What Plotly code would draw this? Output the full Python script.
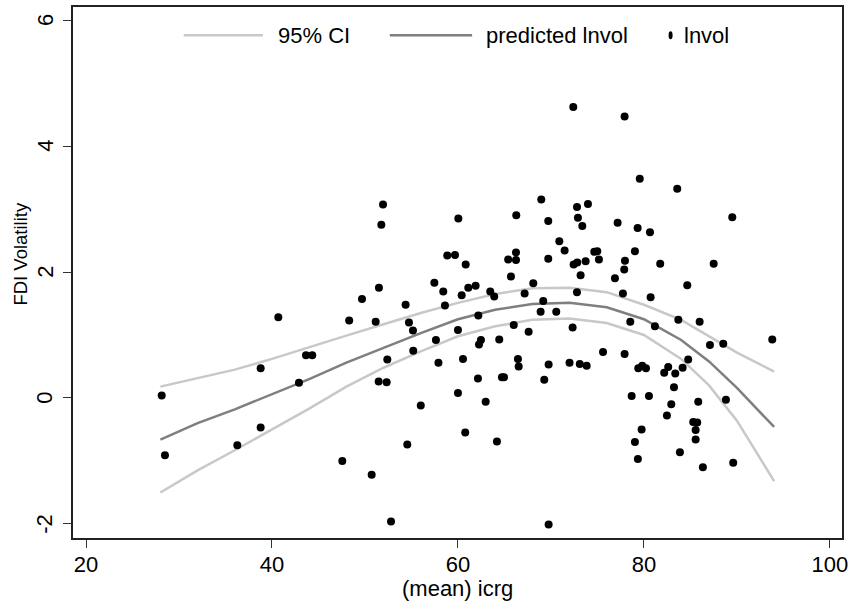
import plotly.graph_objects as go

# ---- data ----
icrg = [28.14, 28.49, 38.78, 38.78, 36.27,
        51.94, 51.76, 58.85, 57.46, 51.5, 49.68, 58.42, 54.37, 58.6, 40.68,
        48.3, 51.15, 54.73, 55.16, 57.63, 55.19, 43.66, 44.33, 52.4, 57.9, 42.9, 51.47, 52.33, 56.0, 54.55, 47.56, 50.72, 52.8,
        72.4, 77.92, 79.55, 68.96, 72.8, 73.98, 72.9, 73.37, 60.04, 66.27, 69.71, 77.17, 79.32, 70.9, 71.47, 74.66, 74.98, 79.03,
        59.68, 60.83, 66.24, 65.4, 66.24, 69.71, 72.44, 72.83, 73.73, 75.16, 77.96, 77.88, 73.19, 65.7, 76.88, 60.4, 61.11, 61.9,
        63.47, 63.9, 68.1, 67.17, 72.8, 77.74, 69.17,
        68.89, 70.57, 62.19, 66.0, 78.53, 60.0, 67.6, 72.33, 62.47, 62.26, 64.44, 60.54, 66.45, 66.53, 69.75, 72.0, 73.1, 73.84,
        75.6, 77.92, 62.15, 64.73, 64.95, 69.28, 60.0, 62.98, 60.78, 64.19, 69.75,
        83.58, 89.5, 80.65, 81.75, 87.5, 84.66, 80.72,
        83.7, 85.99, 81.18, 93.8, 87.1, 88.53, 84.76, 79.39, 79.82, 80.22, 82.61, 82.18, 83.37, 84.16, 83.23, 78.68, 80.54,
        82.94, 85.84, 88.82, 82.47, 79.75, 85.3, 85.73, 85.56, 85.56, 79.03, 79.35, 83.87, 86.34, 89.6]
lnvol = [0.04, -0.91, 0.47, -0.47, -0.75,
         3.07, 2.75, 2.26, 1.83, 1.75, 1.57, 1.69, 1.48, 1.47, 1.28,
         1.23, 1.21, 1.20, 1.07, 0.92, 0.75, 0.68, 0.68, 0.61, 0.56, 0.24, 0.26, 0.25, -0.12, -0.74, -1.0, -1.22, -1.96,
         4.62, 4.47, 3.48, 3.15, 3.03, 3.08, 2.86, 2.73, 2.85, 2.90, 2.81, 2.78, 2.70, 2.49, 2.34, 2.32, 2.33, 2.33,
         2.27, 2.12, 2.31, 2.20, 2.19, 2.21, 2.12, 2.15, 2.17, 2.20, 2.18, 2.04, 1.95, 1.93, 1.90, 1.63, 1.75, 1.78,
         1.69, 1.61, 1.82, 1.66, 1.68, 1.66, 1.54,
         1.37, 1.37, 1.31, 1.16, 1.21, 1.08, 1.05, 1.12, 0.92, 0.85, 0.93, 0.62, 0.62, 0.50, 0.53, 0.56, 0.54, 0.51,
         0.73, 0.70, 0.31, 0.33, 0.33, 0.29, 0.08, -0.06, -0.55, -0.69, -2.01,
         3.32, 2.87, 2.63, 2.13, 2.13, 1.79, 1.60,
         1.24, 1.21, 1.14, 0.93, 0.84, 0.86, 0.61, 0.47, 0.51, 0.47, 0.49, 0.40, 0.39, 0.48, 0.17, 0.03, 0.03,
         -0.10, -0.06, -0.03, -0.28, -0.50, -0.38, -0.39, -0.51, -0.66, -0.70, -0.97, -0.86, -1.10, -1.03]

fit_x = [28, 32, 36, 40, 44, 48, 52, 56, 60, 64, 68, 72, 76, 80, 84, 87, 90, 94]
predicted = [-0.66, -0.40, -0.18, 0.06, 0.30, 0.56, 0.80, 1.03, 1.25, 1.40, 1.49, 1.51, 1.44, 1.25, 0.92, 0.58, 0.16, -0.46]
ci_upper = [0.18, 0.31, 0.45, 0.62, 0.81, 0.99, 1.17, 1.35, 1.51, 1.65, 1.74, 1.75, 1.68, 1.48, 1.24, 0.98, 0.72, 0.42]
ci_lower = [-1.50, -1.15, -0.83, -0.50, -0.17, 0.18, 0.48, 0.74, 0.98, 1.14, 1.24, 1.26, 1.19, 1.00, 0.62, 0.20, -0.36, -1.32]

x_ticks = [20, 40, 60, 80, 100]
y_ticks = [-2, 0, 2, 4, 6]
y_tick_labels = ["-2", "0", "2", "4", "6"]
legend_labels = ["95% CI", "predicted lnvol", "lnvol"]
x_title = "(mean) icrg"
y_title = "FDI Volatility"

CI_COLOR = "#c8c8c8"
FIT_COLOR = "#7f7f7f"
FONT = "Liberation Sans, Arial, sans-serif"
FS = 22

fig = go.Figure()
fig.add_trace(go.Scatter(x=fit_x, y=ci_upper, mode="lines", line=dict(color=CI_COLOR, width=2.5),
                         name=legend_labels[0], showlegend=False))
fig.add_trace(go.Scatter(x=fit_x, y=ci_lower, mode="lines", line=dict(color=CI_COLOR, width=2.5),
                         name=legend_labels[0], showlegend=False))
fig.add_trace(go.Scatter(x=fit_x, y=predicted, mode="lines", line=dict(color=FIT_COLOR, width=2.5),
                         name=legend_labels[1], showlegend=False))
fig.add_trace(go.Scatter(x=icrg, y=lnvol, mode="markers", marker=dict(color="black", size=8),
                         name=legend_labels[2], showlegend=False))

# custom legend (long line samples like the original)
ly = 0.947
fig.add_shape(type="line", xref="paper", yref="paper", x0=0.144, x1=0.247, y0=ly, y1=ly,
              line=dict(color=CI_COLOR, width=2.5))
fig.add_annotation(xref="paper", yref="paper", x=0.264, y=ly, text=legend_labels[0], showarrow=False,
                   xanchor="left", yanchor="middle", font=dict(size=FS, color="black", family=FONT))
fig.add_shape(type="line", xref="paper", yref="paper", x0=0.412, x1=0.519, y0=ly, y1=ly,
              line=dict(color=FIT_COLOR, width=2.5))
fig.add_annotation(xref="paper", yref="paper", x=0.534, y=ly, text=legend_labels[1], showarrow=False,
                   xanchor="left", yanchor="middle", font=dict(size=FS, color="black", family=FONT))
fig.add_shape(type="circle", xref="paper", yref="paper", x0=0.7745, x1=0.7797, y0=ly - 0.0075, y1=ly + 0.0075,
              fillcolor="black", line=dict(color="black", width=0))
fig.add_annotation(xref="paper", yref="paper", x=0.792, y=ly, text=legend_labels[2], showarrow=False,
                   xanchor="left", yanchor="middle", font=dict(size=FS, color="black", family=FONT))

# rotated y tick labels (Stata style, hyphen minus)
for val, lab in zip(y_ticks, y_tick_labels):
    fig.add_annotation(xref="paper", yref="y", x=-0.0366, y=val, text=lab, showarrow=False,
                       textangle=-90, xanchor="center", yanchor="middle",
                       font=dict(size=FS, color="black", family=FONT))

# axis titles
fig.add_annotation(xref="paper", yref="paper", x=0.5, y=-0.095, text=x_title, showarrow=False,
                   xanchor="center", yanchor="middle", font=dict(size=FS, color="black", family=FONT))
fig.add_annotation(xref="paper", yref="paper", x=-0.068, y=0.535, text=y_title, showarrow=False,
                   textangle=-90, xanchor="center", yanchor="middle",
                   font=dict(size=18.5, color="black", family=FONT))

fig.update_layout(
    width=850, height=602,
    margin=dict(l=73, r=8, t=7, b=64),
    paper_bgcolor="white", plot_bgcolor="white",
    font=dict(family=FONT, size=FS, color="black"),
    showlegend=False,
)
fig.update_xaxes(range=[18.6, 101.3], tickvals=x_ticks, ticks="outside", ticklen=8, tickwidth=1.2,
                 tickcolor="#333333", showgrid=False, zeroline=False, showline=True, linecolor="#222222",
                 linewidth=1.5, mirror=True, tickfont=dict(size=FS), automargin=False,
                 ticklabelstandoff=-2)
fig.update_yaxes(range=[-2.223, 6.207], tickvals=y_ticks, ticks="outside", ticklen=8, tickwidth=1.2,
                 tickcolor="#333333", showgrid=False, zeroline=False, showline=True, linecolor="#222222",
                 linewidth=1.5, mirror=True, showticklabels=False, automargin=False)

fig.write_html("out.html", config={"displayModeBar": False},
               post_script="document.body.style.margin='0';document.body.style.overflow='hidden';")
